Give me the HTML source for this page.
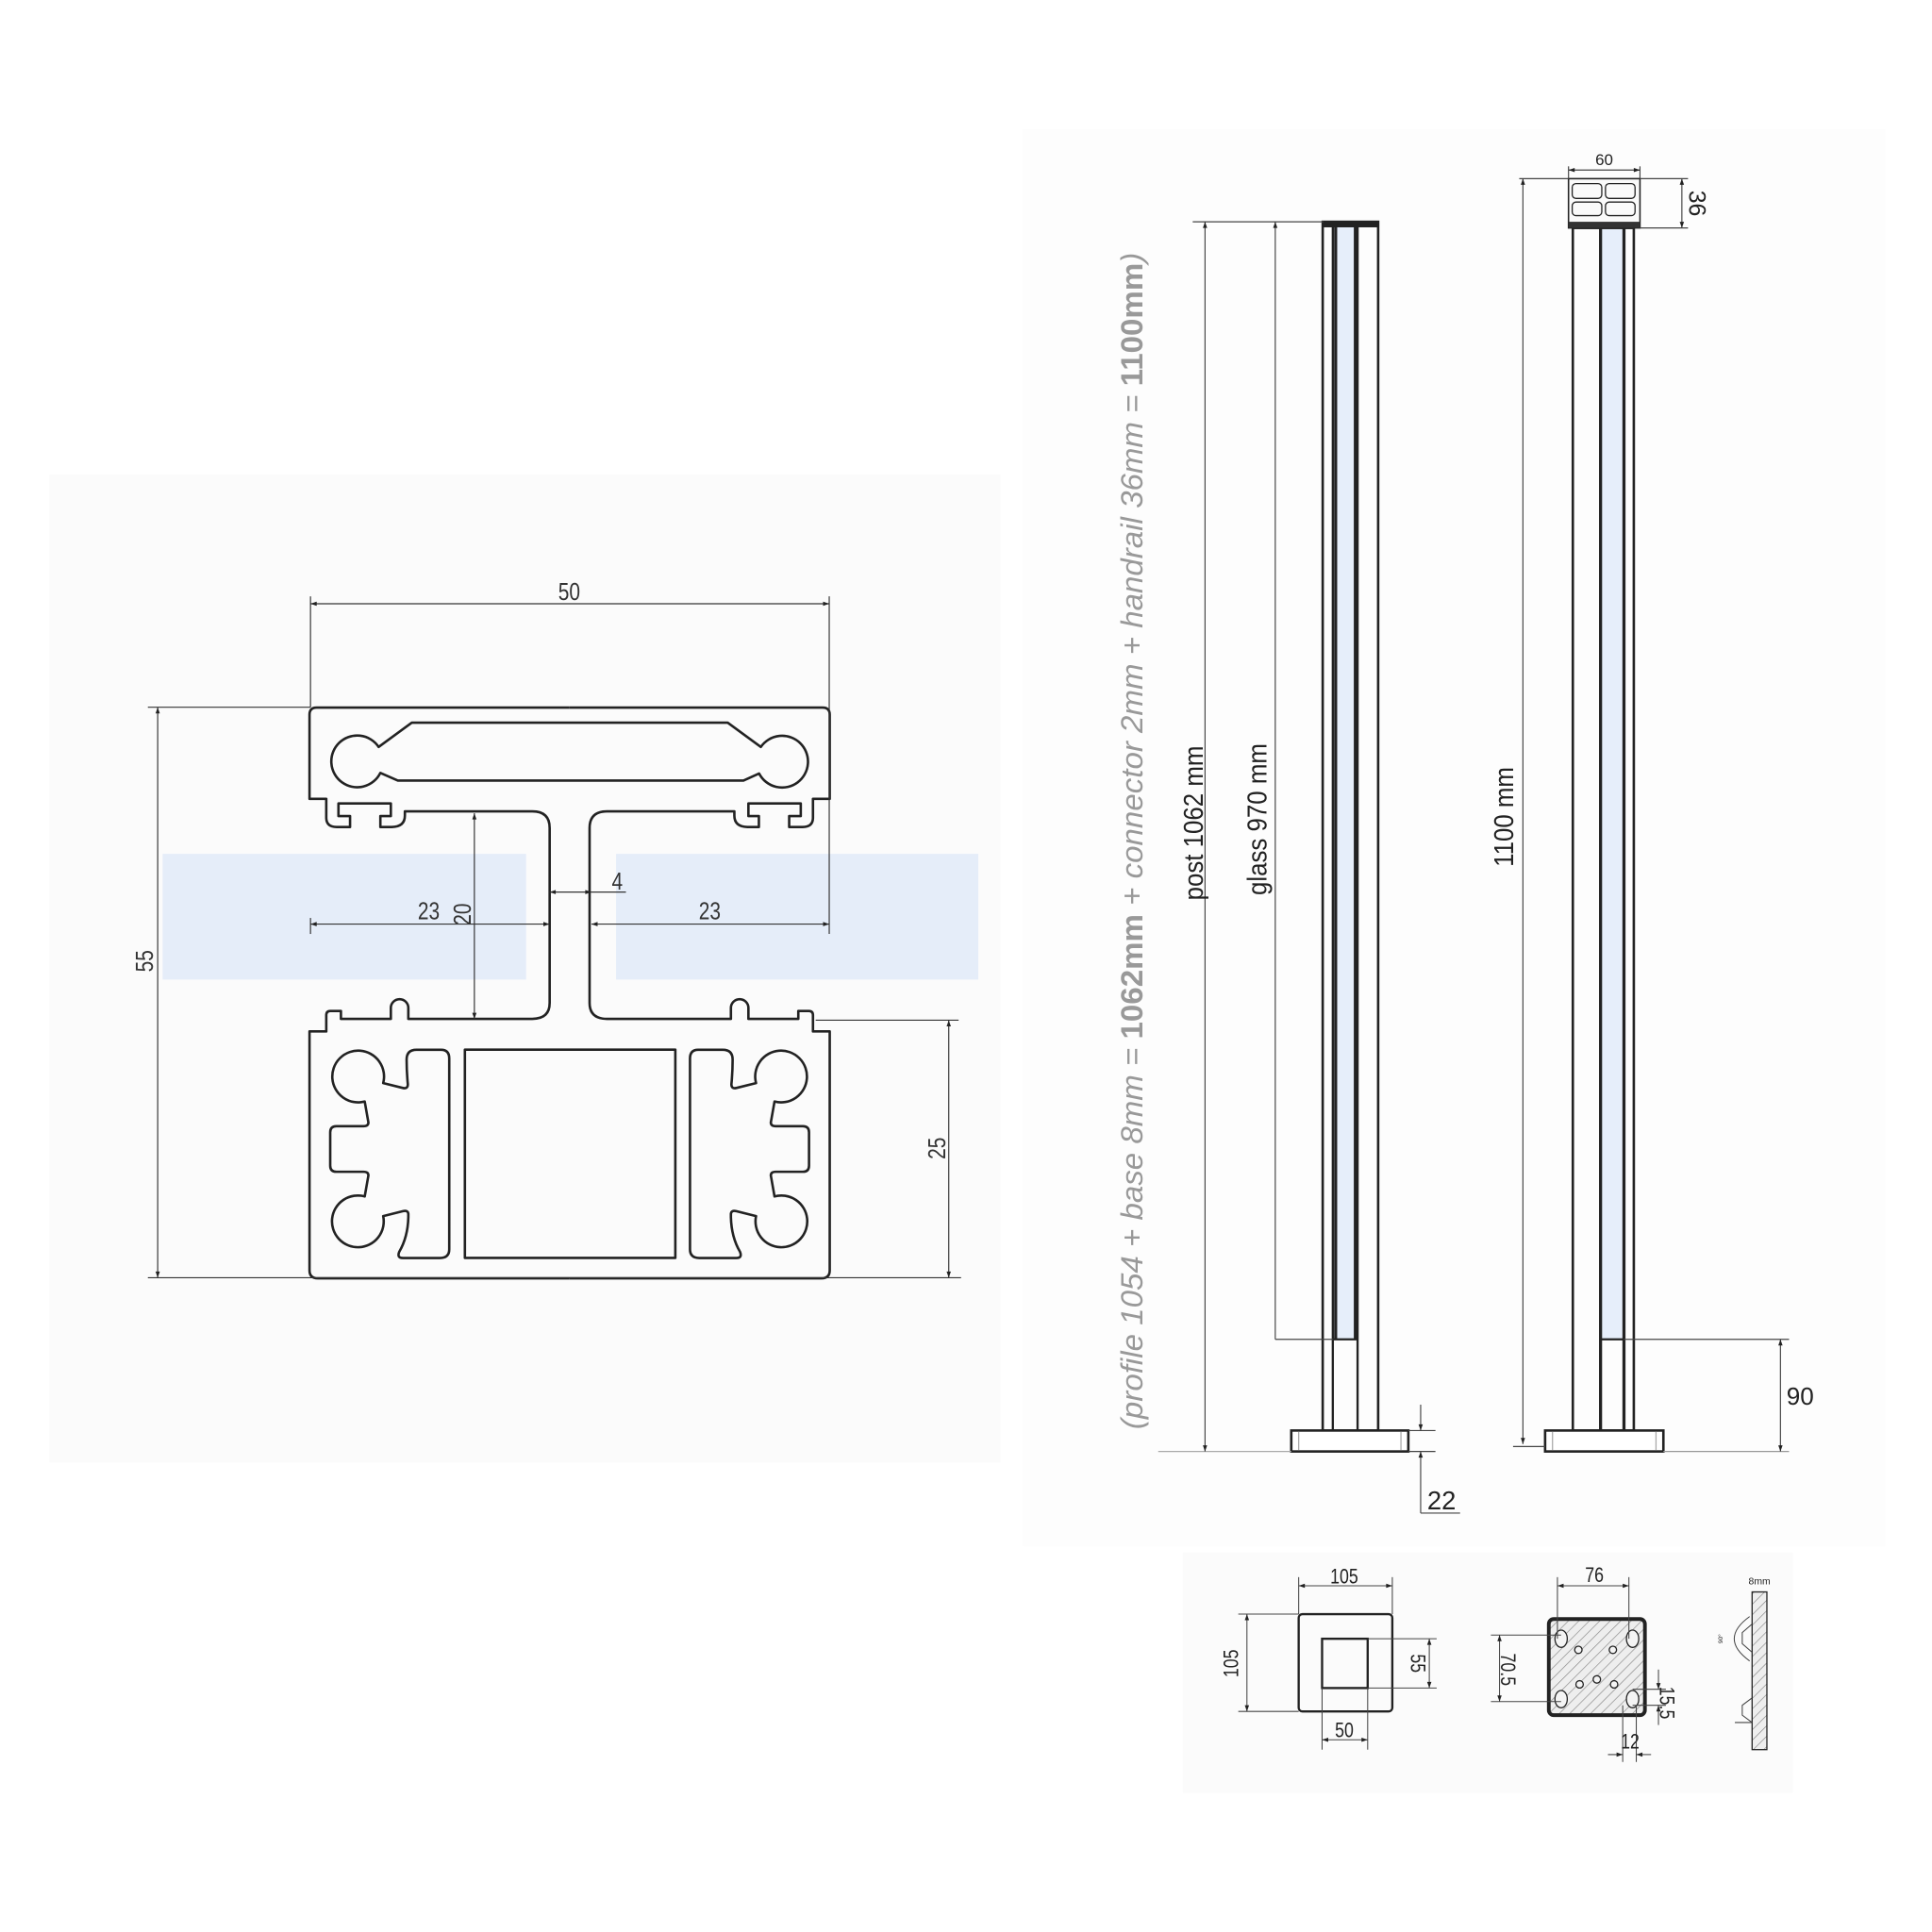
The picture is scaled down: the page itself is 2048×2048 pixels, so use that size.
<!DOCTYPE html>
<html><head><meta charset="utf-8"><style>html,body{margin:0;padding:0;background:#fff}svg{display:block}</style></head>
<body>
<svg xmlns="http://www.w3.org/2000/svg" width="2048" height="2048" viewBox="0 0 1568 1568">
<defs>
<marker id="a" viewBox="0 0 10 10" refX="10" refY="5" markerWidth="9" markerHeight="5" markerUnits="userSpaceOnUse" orient="auto-start-reverse"><path d="M0,1.5 L10,5 L0,8.5 z" fill="#222"/></marker>
<pattern id="h" width="6" height="6" patternUnits="userSpaceOnUse" patternTransform="rotate(45)"><rect width="6" height="6" fill="#eee"/><line x1="0" y1="0" x2="0" y2="6" stroke="#888" stroke-width="1"/></pattern>
</defs>
<rect width="1568" height="1568" fill="#fff"/>
<rect x="40" y="385" width="772" height="802" fill="#fbfbfb"/>
<rect x="830" y="105" width="700" height="1150" fill="#fdfdfd"/>
<rect x="960" y="1260" width="495" height="195" fill="#fbfbfb"/>

<!-- blue glass bands -->
<rect x="132" y="693" width="295" height="102" fill="#e5edf9"/>
<rect x="500" y="693" width="294" height="102" fill="#e5edf9"/>

<g fill="none" stroke="#222" stroke-width="2" stroke-linejoin="round">
<g id="half">
<path d="M462.3 574.3 L257 574.3 Q251.2 574.3 251.2 580 L251.2 648.3 L264.8 648.3 L264.8 664 Q265 671.2 273.3 671.2 L284.1 671.2 L284.1 662.3 L274.7 662.3 L274.7 652.1 L317.2 652.1 L317.2 662.3 L308.7 662.3 L308.7 671.2 L318 671.2 Q328.6 671 328.6 662 L328.6 658.5 L432 658.5 Q446.1 658.5 446.1 672 L446.1 814 Q446.1 826.9 432 826.9 L331.4 826.9 L331.4 818 A7.1 7.1 0 0 0 317.2 818 L317.2 826.9 L276.7 826.9 L276.7 820.5 L268 820.5 Q264.8 820.5 264.8 824 L264.8 837.1 L251.2 837.1 L251.2 1031 Q251.2 1037.5 258 1037.5 L462.3 1037.5"/>
<path d="M338 852 L358 852 Q364.6 852 364.6 859 L364.6 1014 Q364.6 1021 357 1021 L327 1021 Q322 1021 324 1016 Q331 1004 331.4 988 L331.4 985 Q331 982 327 983 L311 987 A21 21 0 1 1 296 971 L299 954 Q299 951 295 951 L273 951 Q268 951 268 946 L268 919 Q268 914 273 914 L295 914 Q299 914 299 911 L296 894 A21 21 0 1 1 311 879 L327 883 Q331 884 331 880 Q330 870 330 860 Q330 852 338 852 Z"/>
</g>
<use href="#half" transform="translate(924.6 0) scale(-1 1)"/>
<rect x="377.3" y="851.9" width="170.8" height="169"/>
<path d="M307.3 606.2 L334.2 586.5 L590.6 586.5 L617.5 606.2 A21 21 0 1 1 616.1 627.8 L603.4 633.5 L322.9 633.5 L308.7 627.3 A21 21 0 1 1 307.3 606.2 Z"/>
</g>

<!-- profile dimensions -->
<g stroke="#333" stroke-width="0.9" fill="none">
<line x1="252" y1="484" x2="252" y2="574"/><line x1="673" y1="484" x2="673" y2="758"/>
<line x1="252" y1="490" x2="673" y2="490" marker-start="url(#a)" marker-end="url(#a)"/>
<line x1="120" y1="574" x2="252" y2="574"/><line x1="120" y1="1037" x2="780" y2="1037"/>
<line x1="128" y1="574" x2="128" y2="1037" marker-start="url(#a)" marker-end="url(#a)"/>
<line x1="662" y1="828" x2="778" y2="828"/>
<line x1="770" y1="828" x2="770" y2="1037" marker-start="url(#a)" marker-end="url(#a)"/>
<line x1="252" y1="745" x2="252" y2="758"/>
<line x1="252" y1="750" x2="446" y2="750" marker-start="url(#a)" marker-end="url(#a)"/>
<line x1="480" y1="750" x2="673" y2="750" marker-start="url(#a)" marker-end="url(#a)"/>
<line x1="385" y1="660" x2="385" y2="827" marker-start="url(#a)" marker-end="url(#a)"/>
<line x1="446" y1="724" x2="480" y2="724" marker-start="url(#a)" marker-end="url(#a)"/>
<line x1="480" y1="724" x2="508" y2="724"/>
</g>
<g font-family="Liberation Sans, sans-serif" font-size="20" fill="#333" text-anchor="middle">
<text x="462" y="487" transform="translate(462 487) scale(0.8 1) translate(-462 -487)">50</text>
<text x="348" y="746" transform="translate(348 746) scale(0.8 1) translate(-348 -746)">23</text>
<text x="576" y="746" transform="translate(576 746) scale(0.8 1) translate(-576 -746)">23</text>
<text x="501" y="722" transform="translate(501 722) scale(0.8 1) translate(-501 -722)">4</text>
<text transform="translate(382 742) rotate(-90) scale(0.8 1)">20</text>
<text transform="translate(124 780) rotate(-90) scale(0.8 1)">55</text>
<text transform="translate(767 932) rotate(-90) scale(0.8 1)">25</text>
</g>

<!-- long note -->
<text transform="translate(927 1160) rotate(-90)" font-family="Liberation Sans, sans-serif" font-size="24.5" font-style="italic" fill="#999" textLength="955" lengthAdjust="spacingAndGlyphs">(profile 1054 + base 8mm = <tspan font-weight="bold" font-style="normal">1062mm</tspan> + connector 2mm + handrail 36mm = <tspan font-weight="bold" font-style="normal">1100mm</tspan>)</text>

<!-- left post -->
<rect x="1082" y="184" width="18" height="903" fill="#e6eefa"/>
<g stroke="#222" fill="none">
<rect x="1073.5" y="180" width="45" height="981" stroke-width="2"/>
<rect x="1073.5" y="180" width="45" height="4" fill="#222"/>
<line x1="1081.7" y1="184" x2="1081.7" y2="1161" stroke-width="1.8"/>
<line x1="1084" y1="184" x2="1084" y2="1087" stroke-width="2.5"/>
<line x1="1100" y1="184" x2="1100" y2="1087" stroke-width="2.5"/>
<line x1="1101.8" y1="184" x2="1101.8" y2="1161" stroke-width="1.8"/>
<line x1="1082" y1="1087" x2="1102" y2="1087" stroke-width="1.8"/>
<rect x="1048" y="1161" width="95" height="17" stroke-width="2" fill="#fff"/>
<line x1="1054" y1="1162" x2="1054" y2="1177" stroke="#aaa"/><line x1="1137" y1="1162" x2="1137" y2="1177" stroke="#aaa"/>
</g>
<g stroke="#444" stroke-width="0.9" fill="none">
<line x1="968" y1="180" x2="1074" y2="180"/>
<line x1="940" y1="1178" x2="1048" y2="1178" stroke="#aaa"/>
<line x1="978" y1="180" x2="978" y2="1178" marker-start="url(#a)" marker-end="url(#a)"/>
<line x1="1035" y1="180" x2="1035" y2="1087" marker-start="url(#a)"/>
<line x1="1035" y1="1087" x2="1082" y2="1087"/>
<line x1="1143" y1="1161" x2="1165" y2="1161"/><line x1="1143" y1="1178" x2="1165" y2="1178"/>
<line x1="1153" y1="1140" x2="1153" y2="1161" marker-end="url(#a)"/>
<line x1="1153" y1="1228" x2="1153" y2="1178" marker-end="url(#a)"/>
<line x1="1153" y1="1228" x2="1185" y2="1228"/>
</g>

<!-- right post -->
<rect x="1299" y="185" width="19" height="902" fill="#e6eefa"/>
<g stroke="#222" fill="none">
<rect x="1276.5" y="185" width="49.5" height="976" stroke-width="2"/>
<line x1="1299" y1="185" x2="1299" y2="1161" stroke-width="2.5"/>
<line x1="1318" y1="185" x2="1318" y2="1161" stroke-width="2.5"/>
<line x1="1299" y1="1087" x2="1318" y2="1087" stroke-width="1.8"/>
<rect x="1254" y="1161" width="96" height="17" stroke-width="2" fill="#fff"/>
<line x1="1260" y1="1162" x2="1260" y2="1177" stroke="#aaa"/><line x1="1344" y1="1162" x2="1344" y2="1177" stroke="#aaa"/>
<!-- handrail -->
<rect x="1273" y="145" width="58" height="40" stroke-width="1.2" fill="#fafafa"/>
<rect x="1273" y="180" width="58" height="5" fill="#333" stroke="none"/>
<rect x="1276" y="149" width="24" height="12" rx="3" stroke-width="1"/>
<rect x="1303" y="149" width="24" height="12" rx="3" stroke-width="1"/>
<rect x="1276" y="164" width="24" height="11" rx="3" stroke-width="1"/>
<rect x="1303" y="164" width="24" height="11" rx="3" stroke-width="1"/>
</g>
<g stroke="#444" stroke-width="0.9" fill="none">
<line x1="1233" y1="145" x2="1273" y2="145"/>
<line x1="1236" y1="145" x2="1236" y2="1172" marker-start="url(#a)" marker-end="url(#a)"/>
<line x1="1228" y1="1174" x2="1254" y2="1174"/>
<line x1="1273" y1="138" x2="1331" y2="138" marker-start="url(#a)" marker-end="url(#a)"/>
<line x1="1273" y1="135" x2="1273" y2="145"/><line x1="1331" y1="135" x2="1331" y2="145"/>
<line x1="1331" y1="145" x2="1370" y2="145"/><line x1="1331" y1="185" x2="1370" y2="185"/>
<line x1="1365" y1="145" x2="1365" y2="185" marker-start="url(#a)" marker-end="url(#a)"/>
<line x1="1318" y1="1087" x2="1452" y2="1087"/>
<line x1="1350" y1="1178" x2="1452" y2="1178" stroke="#999"/>
<line x1="1445" y1="1087" x2="1445" y2="1178" marker-start="url(#a)" marker-end="url(#a)"/>
</g>
<g font-family="Liberation Sans, sans-serif" fill="#222" font-size="22" text-anchor="middle">
<text transform="translate(976 668) rotate(-90) scale(0.9 1)">post 1062 mm</text>
<text transform="translate(1028 665) rotate(-90) scale(0.9 1)">glass 970 mm</text>
<text transform="translate(1228 663) rotate(-90) scale(0.9 1)">1100 mm</text>
<text x="1170" y="1225" font-size="21">22</text>
<text x="1461" y="1140" font-size="20">90</text>
<text x="1302" y="134" font-size="13">60</text>
<text transform="translate(1371 165) rotate(90)" font-size="19">36</text>
</g>

<!-- bottom plates -->
<g stroke="#222" fill="none">
<rect x="1054" y="1310" width="76" height="79" rx="3" stroke-width="1.8"/>
<rect x="1073" y="1330" width="37" height="40" stroke-width="1.8"/>
<rect x="1257" y="1314" width="78" height="78" rx="4" stroke-width="3" fill="url(#h)"/>
<g stroke-width="1" fill="#f4f4f4">
<ellipse cx="1267" cy="1330" rx="5" ry="7"/><ellipse cx="1325" cy="1330" rx="5" ry="7"/>
<ellipse cx="1267" cy="1379" rx="5" ry="7"/><ellipse cx="1325" cy="1379" rx="5" ry="7"/>
<circle cx="1281" cy="1339" r="3"/><circle cx="1309" cy="1339" r="3"/>
<circle cx="1282" cy="1367" r="3"/><circle cx="1296" cy="1363" r="3"/><circle cx="1310" cy="1367" r="3"/>
</g>
<rect x="1422" y="1292" width="12" height="128" stroke-width="1" fill="url(#h)"/>
</g>
<g stroke="#444" stroke-width="0.8" fill="none">
<line x1="1054" y1="1280" x2="1054" y2="1310"/><line x1="1130" y1="1280" x2="1130" y2="1310"/>
<line x1="1054" y1="1287" x2="1130" y2="1287" marker-start="url(#a)" marker-end="url(#a)"/>
<line x1="1005" y1="1310" x2="1054" y2="1310"/><line x1="1005" y1="1389" x2="1054" y2="1389"/>
<line x1="1012" y1="1310" x2="1012" y2="1389" marker-start="url(#a)" marker-end="url(#a)"/>
<line x1="1110" y1="1330" x2="1166" y2="1330"/><line x1="1110" y1="1370" x2="1166" y2="1370"/>
<line x1="1160" y1="1330" x2="1160" y2="1370" marker-start="url(#a)" marker-end="url(#a)"/>
<line x1="1073" y1="1370" x2="1073" y2="1420"/><line x1="1110" y1="1370" x2="1110" y2="1420"/>
<line x1="1073" y1="1412" x2="1110" y2="1412" marker-start="url(#a)" marker-end="url(#a)"/>
<line x1="1264" y1="1280" x2="1264" y2="1330"/><line x1="1322" y1="1280" x2="1322" y2="1330"/>
<line x1="1264" y1="1287" x2="1322" y2="1287" marker-start="url(#a)" marker-end="url(#a)"/>
<line x1="1210" y1="1327" x2="1267" y2="1327"/><line x1="1210" y1="1381" x2="1267" y2="1381"/>
<line x1="1217" y1="1327" x2="1217" y2="1381" marker-start="url(#a)" marker-end="url(#a)"/>
<line x1="1325" y1="1371" x2="1352" y2="1371"/><line x1="1325" y1="1384" x2="1352" y2="1384"/>
<line x1="1346" y1="1355" x2="1346" y2="1371" marker-end="url(#a)"/>
<line x1="1346" y1="1400" x2="1346" y2="1384" marker-end="url(#a)"/>
<line x1="1317" y1="1384" x2="1317" y2="1430"/><line x1="1328" y1="1384" x2="1328" y2="1430"/>
<line x1="1305" y1="1424" x2="1317" y2="1424" marker-end="url(#a)"/>
<line x1="1340" y1="1424" x2="1328" y2="1424" marker-end="url(#a)"/>
<path d="M1420 1312 Q1395 1330 1420 1348"/>
<path d="M1422 1318 L1414 1325 L1414 1334 L1422 1341"/>
<path d="M1422 1378 L1414 1384 L1414 1392 L1422 1398"/>
<line x1="1408" y1="1398" x2="1422" y2="1398"/>
</g>
<g font-family="Liberation Sans, sans-serif" fill="#222" font-size="17" text-anchor="middle">
<text x="1091" y="1285" transform="translate(1091 1285) scale(0.8 1) translate(-1091 -1285)">105</text>
<text transform="translate(1005 1350) rotate(-90) scale(0.8 1)">105</text>
<text transform="translate(1145 1350) rotate(90) scale(0.8 1)">55</text>
<text x="1091" y="1410" transform="translate(1091 1410) scale(0.8 1) translate(-1091 -1410)">50</text>
<text x="1294" y="1284" transform="translate(1294 1284) scale(0.8 1) translate(-1294 -1284)">76</text>
<text transform="translate(1218 1355) rotate(90) scale(0.8 1)">70.5</text>
<text transform="translate(1347 1382) rotate(90) scale(0.8 1)">15.5</text>
<text x="1323" y="1419" transform="translate(1323 1419) scale(0.8 1) translate(-1323 -1419)">12</text>
<text x="1428" y="1286" font-size="8">8mm</text>
<text transform="translate(1398 1330) rotate(-90)" font-size="5">90°</text>
</g>
</svg>
</body></html>
